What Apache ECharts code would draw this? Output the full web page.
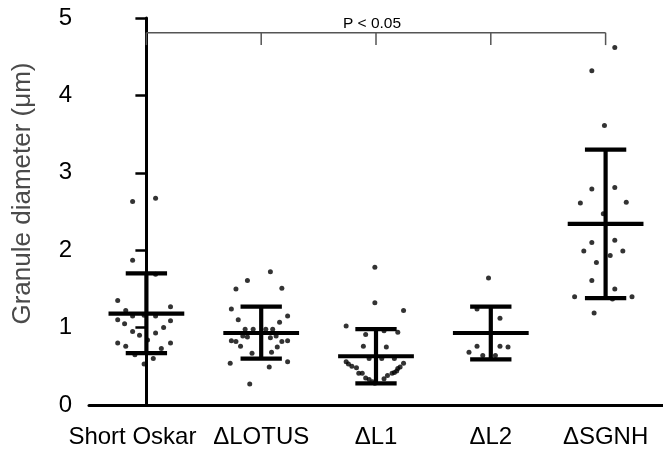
<!DOCTYPE html>
<html>
<head>
<meta charset="utf-8">
<script src="https://cdn.jsdelivr.net/npm/echarts@6/dist/echarts.min.js"></script>
<style>
  html, body { margin: 0; padding: 0; background: #fff; }
  #chart { width: 663px; height: 449px; }
</style>
</head>
<body>
<div id="chart"></div>
<script>
const categories = ['Short Oskar', '\u0394LOTUS', '\u0394L1', '\u0394L2', '\u0394SGNH'];

// [jitter offset (category units), diameter µm]
const shortOskar = [
  [-0.12, 2.63], [0.08, 2.67], [-0.12, 1.87], [0.08, 1.69], [-0.25, 1.35],
  [-0.18, 1.22], [0.21, 1.27], [-0.25, 1.10], [-0.12, 1.15], [-0.02, 1.16],
  [0.08, 1.15], [-0.19, 1.05], [0.21, 1.09], [0.15, 1.00], [-0.12, 0.95],
  [-0.06, 0.90], [0.08, 0.93], [0.01, 0.84], [-0.25, 0.80], [0.21, 0.80],
  [-0.18, 0.76], [0.13, 0.73], [-0.10, 0.65], [0.06, 0.60], [-0.02, 0.53]
];
const dLotus = [
  [0.08, 1.72], [-0.12, 1.61], [-0.22, 1.50], [0.18, 1.51], [-0.26, 1.24],
  [0.23, 1.15], [-0.20, 1.10], [0.16, 1.07], [-0.14, 0.98], [-0.07, 0.98],
  [0.04, 0.98], [0.10, 0.98], [-0.16, 0.89], [-0.12, 0.88], [0.08, 0.87],
  [0.13, 0.89], [-0.26, 0.83], [-0.22, 0.82], [0.18, 0.82], [0.23, 0.83],
  [-0.18, 0.76], [0.14, 0.75], [-0.08, 0.67], [0.09, 0.68], [-0.27, 0.54],
  [0.23, 0.56], [0.07, 0.49], [-0.10, 0.27]
];
const dL1 = [
  [-0.01, 1.78], [-0.01, 1.32], [0.24, 1.22], [-0.26, 1.02], [0.19, 0.94],
  [0.07, 0.96], [-0.09, 0.91], [-0.11, 0.76], [0.09, 0.75], [-0.06, 0.60],
  [0.05, 0.60], [0.16, 0.60], [-0.26, 0.56], [-0.24, 0.53], [-0.21, 0.50],
  [-0.17, 0.48], [-0.15, 0.41], [-0.12, 0.41], [-0.09, 0.35], [-0.06, 0.33],
  [-0.03, 0.30], [-0.01, 0.28], [0.07, 0.34], [0.10, 0.38], [0.14, 0.41],
  [0.16, 0.42], [0.18, 0.44], [0.19, 0.47], [0.21, 0.49], [0.24, 0.54]
];
const dL2 = [
  [-0.02, 1.64], [-0.12, 1.24], [0.08, 1.12], [-0.12, 0.76], [0.08, 0.76],
  [0.15, 0.75], [-0.19, 0.68], [-0.07, 0.64], [0.04, 0.64]
];
const dSgnh = [
  [0.08, 4.62], [-0.12, 4.32], [-0.01, 3.61], [-0.12, 2.79], [0.08, 2.81],
  [-0.22, 2.61], [0.18, 2.62], [-0.02, 2.47], [-0.12, 2.10], [0.08, 2.13],
  [-0.19, 1.99], [0.15, 1.99], [0.04, 1.93], [-0.08, 1.84], [-0.12, 1.61],
  [0.08, 1.50], [-0.27, 1.40], [0.23, 1.40], [0.06, 1.37], [-0.10, 1.19]
];
const groups = [shortOskar, dLotus, dL1, dL2, dSgnh];

// mean and SD bounds per group
const means = [1.18, 0.93, 0.63, 0.93, 2.34];
const sdLow = [0.67, 0.60, 0.28, 0.59, 1.38];
const sdHigh = [1.70, 1.27, 0.98, 1.27, 3.30];

const yTicks = [0, 1, 2, 3, 4, 5];
const bracketLevel = 4.81;
const bracketDrop = 4.65;
const pLabel = 'P < 0.05';
const pLabelLevel = 4.93;

const font = "'Liberation Sans', Arial, sans-serif";

const points = [];
groups.forEach((g, i) => g.forEach(p => points.push([i + p[0], p[1]])));

const chart = echarts.init(document.getElementById('chart'));
chart.setOption({
  animation: false,
  grid: { left: 89, right: 0, top: 18, bottom: 44 },
  xAxis: [{
    type: 'category',
    data: categories,
    boundaryGap: true,
    axisLine: { lineStyle: { color: '#000', width: 3 } },
    axisTick: { alignWithLabel: true, length: 11, lineStyle: { color: '#000', width: 2.5 } },
    axisLabel: {
      color: '#000', fontSize: 24, fontFamily: font, margin: 20, interval: 0,
      // first label sits a little left of its tick in the original
      formatter: (v, i) => i === 0 ? '{first|' + v + '}' : v,
      rich: { first: { color: '#000', fontSize: 24, fontFamily: font, padding: [0, 28, 0, 0] } }
    },
    splitLine: { show: false }
  }, {
    type: 'value',
    min: -0.5,
    max: 4.5,
    show: false
  }],
  yAxis: {
    type: 'value',
    min: yTicks[0],
    max: yTicks[yTicks.length - 1],
    interval: 1,
    name: 'Granule diameter (\u03bcm)',
    nameLocation: 'middle',
    nameGap: 53,
    nameTextStyle: { color: '#4a4a4a', fontSize: 26, fontFamily: font, padding: [0, 0, 0, 36] },
    axisLine: { show: true, lineStyle: { color: '#000', width: 3 } },
    axisTick: { show: true, length: 11, lineStyle: { color: '#000', width: 2.5 } },
    axisLabel: { color: '#000', fontSize: 24, fontFamily: font, margin: 17 },
    splitLine: { show: false }
  },
  series: [{
    type: 'custom',
    xAxisIndex: 1,
    data: means.map((m, i) => [i, m, sdLow[i], sdHigh[i]]),
    renderItem: (params, api) => {
      const x = api.value(0);
      const line = (a, b) => ({
        type: 'line',
        shape: { x1: a[0], y1: a[1], x2: b[0], y2: b[1] },
        style: { stroke: '#000', lineWidth: 4.2 }
      });
      const m = api.value(1), lo = api.value(2), hi = api.value(3);
      return {
        type: 'group',
        children: [
          line(api.coord([x, lo]), api.coord([x, hi])),
          line(api.coord([x - 0.18, hi]), api.coord([x + 0.18, hi])),
          line(api.coord([x - 0.18, lo]), api.coord([x + 0.18, lo])),
          line(api.coord([x - 0.33, m]), api.coord([x + 0.33, m]))
        ]
      };
    },
    z: 2
  }, {
    type: 'scatter',
    xAxisIndex: 1,
    data: points,
    symbol: 'circle',
    symbolSize: 5,
    itemStyle: { color: '#000' },
    z: 3
  }, {
    type: 'custom',
    xAxisIndex: 1,
    data: categories.map((c, i) => [i]),
    renderItem: (params, api) => {
      const i = api.value(0);
      const top = api.coord([i, bracketLevel]);
      const bot = api.coord([i, bracketDrop]);
      const children = [{
        type: 'line',
        shape: { x1: top[0], y1: top[1], x2: bot[0], y2: bot[1] },
        style: { stroke: '#555', lineWidth: 1.5 }
      }];
      if (params.dataIndex === 0) {
        const end = api.coord([categories.length - 1, bracketLevel]);
        const mid = api.coord([(categories.length - 1) / 2, pLabelLevel]);
        children.push({
          type: 'line',
          shape: { x1: top[0], y1: top[1], x2: end[0], y2: end[1] },
          style: { stroke: '#555', lineWidth: 1.5 }
        });
        children.push({
          type: 'text',
          x: mid[0] - 4,
          y: mid[1],
          style: {
            text: pLabel, fill: '#000', fontSize: 15.5, fontFamily: font,
            align: 'center', verticalAlign: 'middle'
          }
        });
      }
      return { type: 'group', children: children };
    },
    z: 1
  }]
});
</script>
</body>
</html>
